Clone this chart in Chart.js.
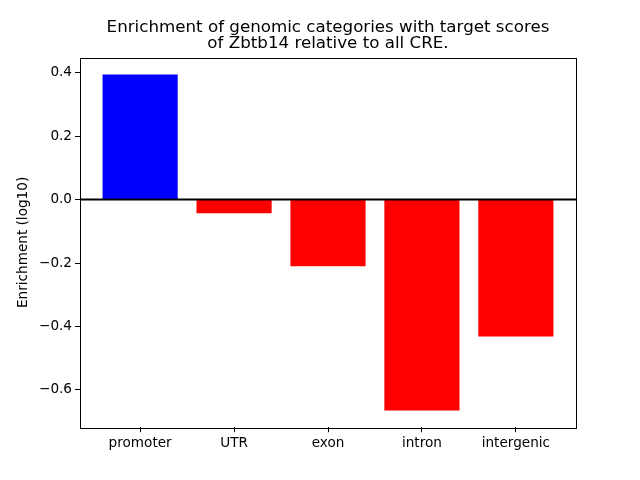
<!DOCTYPE html>
<html>
<head>
<meta charset="utf-8">
<script src="https://cdn.jsdelivr.net/npm/chart.js@4/dist/chart.umd.min.js"></script>
<style>
  html, body { margin: 0; padding: 0; background: #fff; }
  canvas { display: block; }
</style>
</head>
<body>
<canvas id="chart" width="640" height="480"></canvas>
<script>
// Chart data
const categories = ['promoter', 'UTR', 'exon', 'intron', 'intergenic'];
const enrichment = [0.395, -0.043, -0.210, -0.665, -0.432];
const yTicks = [-0.6, -0.4, -0.2, 0.0, 0.2, 0.4];
const titleLines = ['Enrichment of genomic categories with target scores', 'of Zbtb14 relative to all CRE.'];
const yLabel = 'Enrichment (log10)';

const FONT = 'DejaVu Sans';
const TICK_SIZE = 13.6;

// Frame, zero line and title
const decorations = {
    id: 'decorations',
    afterDatasetsDraw(chart) {
        const { ctx, chartArea: a } = chart;
        const y0 = chart.scales.y.getPixelForValue(0);
        ctx.save();
        ctx.strokeStyle = '#000';
        ctx.lineWidth = 2;
        ctx.beginPath();
        ctx.moveTo(a.left, y0);
        ctx.lineTo(a.right, y0);
        ctx.stroke();
        ctx.lineWidth = 1;
        ctx.strokeRect(Math.round(a.left) + 0.5, Math.round(a.top) + 0.5,
                       Math.round(a.right - a.left), Math.round(a.bottom - a.top));
        ctx.fillStyle = '#000';
        ctx.font = '16.7px "' + FONT + '"';
        ctx.textAlign = 'center';
        ctx.textBaseline = 'alphabetic';
        const cx = (a.left + a.right) / 2;
        ctx.fillText(titleLines[0], cx, 32);
        ctx.fillText(titleLines[1], cx, 48);
        ctx.restore();
    }
};

new Chart(document.getElementById('chart'), {
    type: 'bar',
    data: {
        datasets: [{
            data: enrichment.map((v, i) => ({ x: i, y: v })),
            backgroundColor: enrichment.map(v => v >= 0 ? '#0000ff' : '#ff0000'),
            barPercentage: 0.8,
            categoryPercentage: 1.0,
            borderWidth: 0
        }]
    },
    options: {
        responsive: false,
        animation: false,
        layout: { padding: { top: 57.6, right: 64, bottom: 0, left: 0 } },
        plugins: { legend: { display: false }, tooltip: { enabled: false }, title: { display: false } },
        scales: {
            x: {
                type: 'linear',
                offset: false,
                min: -0.64,
                max: 4.64,
                grid: { display: true, drawOnChartArea: false, drawTicks: true, tickLength: 5, color: '#000', offset: false },
                border: { display: false },
                afterBuildTicks(scale) { scale.ticks = categories.map((c, i) => ({ value: i })); },
                ticks: {
                    color: '#000',
                    font: { family: FONT, size: TICK_SIZE },
                    padding: 3,
                    maxRotation: 0,
                    callback: v => categories[v]
                },
                afterFit(scale) { scale.height = 52.8; }
            },
            y: {
                min: -0.718,
                max: 0.448,
                grid: { display: true, drawOnChartArea: false, drawTicks: true, tickLength: 5, color: '#000' },
                border: { display: false },
                afterBuildTicks(scale) { scale.ticks = yTicks.map(v => ({ value: v })); },
                ticks: {
                    color: '#000',
                    font: { family: FONT, size: TICK_SIZE },
                    padding: 3,
                    callback: v => (v < 0 ? '\u2212' : '') + Math.abs(v).toFixed(1)
                },
                title: {
                    display: true,
                    text: yLabel,
                    color: '#000',
                    font: { family: FONT, size: TICK_SIZE },
                    padding: { top: 15, bottom: 4 }
                },
                afterFit(scale) { scale.width = 80; }
            }
        }
    },
    plugins: [decorations]
});
</script>
</body>
</html>
